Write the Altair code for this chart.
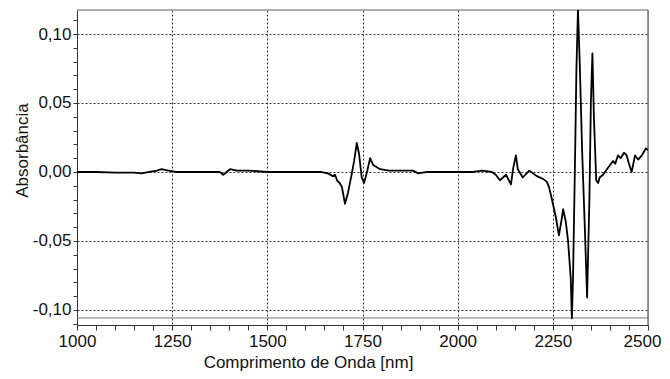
import altair as alt
import pandas as pd

# Wavelength [nm] and absorbance
wavelength = [1000, 1050, 1100, 1150, 1170, 1190, 1210, 1222, 1240, 1260, 1300, 1350, 1375, 1384, 1393,
              1402, 1420, 1450, 1500, 1550, 1600, 1640, 1659, 1672, 1678, 1683, 1690, 1696, 1704, 1712,
              1722, 1728, 1735, 1741, 1748, 1754, 1761, 1770, 1778, 1796, 1820, 1848, 1883, 1896, 1920,
              1960, 2014, 2040, 2064, 2090, 2100, 2111, 2127, 2140, 2146, 2153, 2158, 2171, 2188, 2208,
              2224, 2234, 2240, 2247, 2258, 2266, 2274, 2277, 2284, 2290, 2297, 2300, 2303, 2308, 2312,
              2316, 2321, 2327, 2334, 2340, 2346, 2350, 2354, 2358, 2364, 2369, 2373, 2382, 2395, 2408,
              2414, 2421, 2428, 2437, 2444, 2450, 2457, 2466, 2474, 2484, 2494, 2500]
absorbance = [0.000, 0.000, -0.0005, -0.0005, -0.001, 0.000, 0.001, 0.002, 0.001, 0.000, 0.000, 0.000,
              0.000, -0.002, 0.000, 0.002, 0.001, 0.001, 0.000, 0.000, 0.000, 0.000, -0.001, -0.003,
              -0.002, -0.006, -0.008, -0.011, -0.023, -0.015, -0.001, 0.008, 0.021, 0.013, -0.004,
              -0.008, -0.001, 0.010, 0.005, 0.002, 0.001, 0.001, 0.001, -0.001, 0.000, 0.000, 0.000,
              0.000, 0.001, 0.000, -0.002, -0.006, -0.002, -0.009, 0.003, 0.012, 0.002, -0.004, 0.001,
              -0.003, -0.005, -0.007, -0.011, -0.019, -0.033, -0.046, -0.033, -0.027, -0.036, -0.050,
              -0.077, -0.106, -0.077, 0.003, 0.075, 0.118, 0.076, 0.015, -0.040, -0.091, -0.021, 0.051,
              0.086, 0.039, -0.006, -0.008, -0.004, -0.002, 0.003, 0.008, 0.006, 0.012, 0.010, 0.014,
              0.012, 0.006, 0.000, 0.012, 0.009, 0.012, 0.017, 0.016]

x_domain = [1000, 2500]
y_domain = [-0.1109, 0.1174]
x_tick_values = list(range(1000, 2501, 50))
y_tick_values = [round(i * 0.01, 2) for i in range(-11, 12)]
baseline_value = [-0.1058]

FONT = "Liberation Sans"
FS = 17

df = pd.DataFrame({"wl": wavelength, "abs": absorbance})

xscale = alt.Scale(domain=x_domain, nice=False, zero=False)
yscale = alt.Scale(domain=y_domain, nice=False, zero=False)

xaxis = alt.Axis(
    values=x_tick_values,
    labelExpr="datum.value % 250 == 0 ? format(datum.value, 'd') : ''",
    labelOffset={"condition": {"test": "datum.value == 2500", "value": -6}, "value": 0},
    grid=True,
    gridColor="#333",
    gridDash=[2, 2],
    gridWidth=1,
    gridOpacity={"condition": {"test": "datum.value % 250 == 0 && datum.value > 1000 && datum.value < 2500", "value": 1}, "value": 0},
    tickSize=5,
    tickColor="#333",
    domainColor="#333",
    labelPadding=3,
    labelFontSize=FS,
    labelFont=FONT,
    labelColor="#111",
    labelFlush=False,
    labelOverlap=False,
    title="Comprimento de Onda [nm]",
    titleFont=FONT,
    titleFontSize=FS,
    titleFontWeight="normal",
    titleColor="#111",
    titleX=231,
    titleY=42,
    titleAnchor="middle",
    titleAlign="center",
    titleBaseline="alphabetic",
)

yaxis = alt.Axis(
    values=y_tick_values,
    labelExpr="abs(round(datum.value * 100)) % 5 == 0 ? replace(replace(format(datum.value, '.2f'), '.', ','), '\u2212', '-') : ''",
    grid=True,
    gridColor="#333",
    gridDash=[2, 2],
    gridWidth=1,
    gridOpacity={"condition": {"test": "abs(round(datum.value * 100)) % 5 == 0", "value": 1}, "value": 0},
    tickSize=4,
    tickColor="#333",
    domainColor="#333",
    labelPadding=2,
    labelFontSize=FS,
    labelFont=FONT,
    labelColor="#111",
    labelFlush=False,
    labelOverlap=False,
    title="Absorbância",
    titleFont=FONT,
    titleFontSize=FS,
    titleFontWeight="normal",
    titleColor="#111",
    titleAngle=270,
    titleX=-55,
    titleY=140,
    titleAlign="center",
    titleBaseline="middle",
)

X = alt.X("wl:Q", scale=xscale, axis=xaxis)
Y = alt.Y("abs:Q", scale=yscale, axis=yaxis)

line = alt.Chart(df).mark_line(color="#000", strokeWidth=1.8, clip=True, strokeJoin="round").encode(x=X, y=Y)

base_df = pd.DataFrame({"abs": baseline_value})
base_rule = alt.Chart(base_df).mark_rule(color="#777", strokeWidth=1).encode(y=Y)

top_df = pd.DataFrame({"abs": [y_domain[1]]})
top_rule = alt.Chart(top_df).mark_rule(color="#999", strokeWidth=1.5).encode(y=Y)

right_df = pd.DataFrame({"wl": [x_domain[1]]})
right_rule = alt.Chart(right_df).mark_rule(color="#333", strokeWidth=1).encode(x=X)

chart = alt.layer(base_rule, top_rule, right_rule, line).properties(
    width=571,
    height=315,
    autosize="none",
    padding={"left": 69, "top": 2, "right": 14, "bottom": 46},
).configure_view(stroke=None).configure(background="white")

chart.save("out.html", embed_options={"renderer": "svg", "actions": False})
